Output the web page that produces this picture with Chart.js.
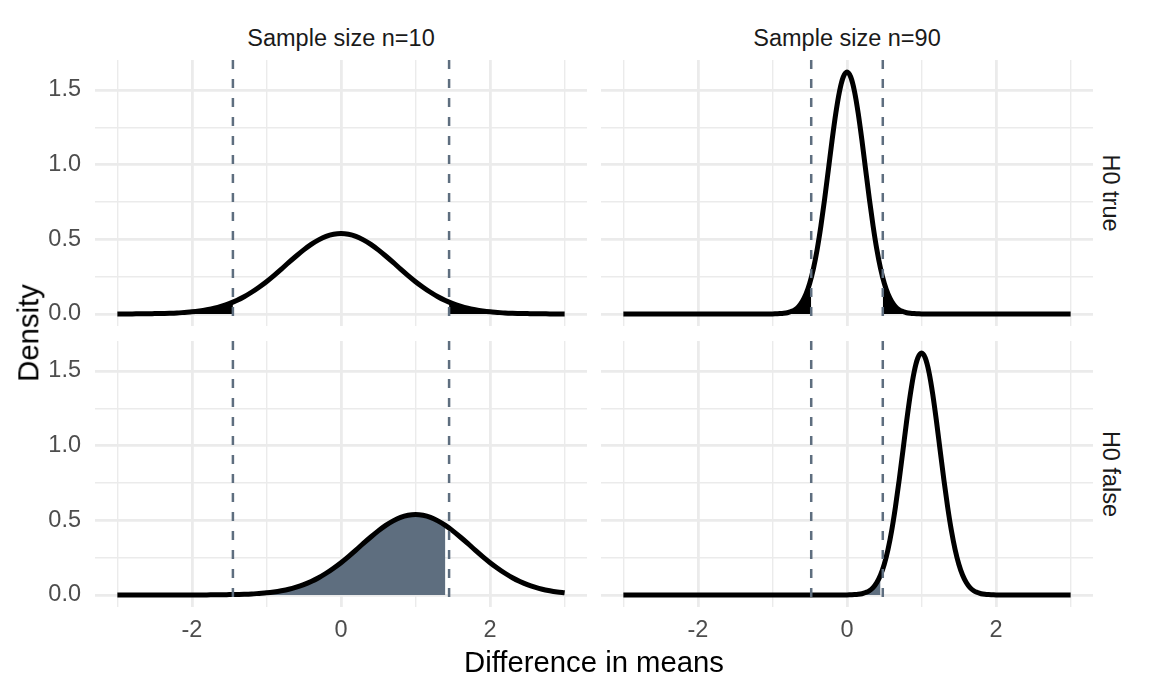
<!DOCTYPE html>
<html>
<head>
<meta charset="utf-8">
<script src="https://cdn.jsdelivr.net/npm/chart.js@4/dist/chart.umd.min.js"></script>
<style>
  html, body { margin: 0; padding: 0; background: #ffffff; }
  body { width: 1152px; height: 691px; position: relative; overflow: hidden; font-family: "Liberation Sans", Arial, sans-serif; }
  canvas { position: absolute; }
  .txt { position: absolute; white-space: nowrap; color: #1a1a1a; line-height: 1; }
  .strip { font-size: 23.5px; transform: translate(-50%, -50%); }
  .rstrip { font-size: 23.5px; transform: translate(-50%, -50%) rotate(90deg); }
  .title { font-size: 29.3px; color: #000; transform: translate(-50%, -50%); }
  .ytitle { font-size: 29.3px; color: #000; transform: translate(-50%, -50%) rotate(-90deg); }
</style>
</head>
<body>
<canvas id="c00" width="587" height="266" style="left:0px;top:60px;"></canvas>
<canvas id="c01" width="492" height="266" style="left:601px;top:60px;"></canvas>
<canvas id="c10" width="587" height="306" style="left:0px;top:341px;"></canvas>
<canvas id="c11" width="492" height="306" style="left:601px;top:341px;"></canvas>

<div class="txt strip" id="colT0" style="left:341px;top:39px;"></div>
<div class="txt strip" id="colT1" style="left:847px;top:39px;"></div>
<div class="txt rstrip" id="rowT0" style="left:1110px;top:193px;"></div>
<div class="txt rstrip" id="rowT1" style="left:1110px;top:474px;"></div>
<div class="txt ytitle" id="yTitle" style="left:28px;top:333px;"></div>
<div class="txt title" id="xTitle" style="left:594px;top:662px;"></div>

<script>
// ---------------- data ----------------
const colTitles = ['Sample size n=10', 'Sample size n=90'];
const rowTitles = ['H0 true', 'H0 false'];
const xAxisTitle = 'Difference in means';
const yAxisTitle = 'Density';

const xTicks = [-3, -2, -1, 0, 1, 2, 3];
const xTickLabels = ['', '-2', '', '0', '', '2', ''];
const yTicks = [0, 0.25, 0.5, 0.75, 1.0, 1.25, 1.5];
const yTickLabels = ['0.0', '', '0.5', '', '1.0', '', '1.5'];

// n = 10 curves
const xWide = [-3.0, -2.9, -2.8, -2.7, -2.6, -2.5, -2.4, -2.3, -2.2, -2.1,
  -2.0, -1.9, -1.8, -1.7, -1.6, -1.5, -1.4, -1.3, -1.2, -1.1,
  -1.0, -0.9, -0.8, -0.7, -0.6, -0.5, -0.4, -0.3, -0.2, -0.1,
  0.0, 0.1, 0.2, 0.3, 0.4, 0.5, 0.6, 0.7, 0.8, 0.9,
  1.0, 1.1, 1.2, 1.3, 1.4, 1.5, 1.6, 1.7, 1.8, 1.9,
  2.0, 2.1, 2.2, 2.3, 2.4, 2.5, 2.6, 2.7, 2.8, 2.9, 3.0];
const densN10H0 = [0.000, 0.000, 0.000, 0.001, 0.001, 0.002, 0.003, 0.004, 0.006, 0.010,
  0.014, 0.020, 0.028, 0.038, 0.052, 0.069, 0.090, 0.115, 0.145, 0.179,
  0.216, 0.257, 0.300, 0.345, 0.388, 0.429, 0.466, 0.496, 0.520, 0.534,
  0.539, 0.534, 0.520, 0.496, 0.466, 0.429, 0.388, 0.345, 0.300, 0.257,
  0.216, 0.179, 0.145, 0.115, 0.090, 0.069, 0.052, 0.038, 0.028, 0.020,
  0.014, 0.010, 0.006, 0.004, 0.003, 0.002, 0.001, 0.001, 0.000, 0.000, 0.000];
const densN10H1 = [0.000, 0.000, 0.000, 0.000, 0.000, 0.000, 0.000, 0.000, 0.000, 0.000,
  0.000, 0.000, 0.000, 0.001, 0.001, 0.002, 0.003, 0.004, 0.006, 0.010,
  0.014, 0.020, 0.028, 0.038, 0.052, 0.069, 0.090, 0.115, 0.145, 0.179,
  0.216, 0.257, 0.300, 0.345, 0.388, 0.429, 0.466, 0.496, 0.520, 0.534,
  0.539, 0.534, 0.520, 0.496, 0.466, 0.429, 0.388, 0.345, 0.300, 0.257,
  0.216, 0.179, 0.145, 0.115, 0.090, 0.069, 0.052, 0.038, 0.028, 0.020, 0.014];

// n = 90 curves
const xNarrow = [-3.0, -2.0,
  -1.0, -0.95, -0.9, -0.85, -0.8, -0.75, -0.7, -0.65, -0.6, -0.55,
  -0.5, -0.45, -0.4, -0.35, -0.3, -0.25, -0.2, -0.15, -0.1, -0.05,
  0.0, 0.05, 0.1, 0.15, 0.2, 0.25, 0.3, 0.35, 0.4, 0.45,
  0.5, 0.55, 0.6, 0.65, 0.7, 0.75, 0.8, 0.85, 0.9, 0.95,
  1.0, 1.05, 1.1, 1.15, 1.2, 1.25, 1.3, 1.35, 1.4, 1.45,
  1.5, 1.55, 1.6, 1.65, 1.7, 1.75, 1.8, 1.85, 1.9, 1.95,
  2.0, 3.0];
const densN90H0 = [0.000, 0.000,
  0.000, 0.001, 0.002, 0.004, 0.008, 0.016, 0.028, 0.049, 0.083, 0.133,
  0.205, 0.304, 0.432, 0.589, 0.770, 0.966, 1.164, 1.345, 1.492, 1.587,
  1.620, 1.587, 1.492, 1.345, 1.164, 0.966, 0.770, 0.589, 0.432, 0.304,
  0.205, 0.133, 0.083, 0.049, 0.028, 0.016, 0.008, 0.004, 0.002, 0.001,
  0.000, 0.000, 0.000, 0.000, 0.000, 0.000, 0.000, 0.000, 0.000, 0.000,
  0.000, 0.000, 0.000, 0.000, 0.000, 0.000, 0.000, 0.000, 0.000, 0.000,
  0.000, 0.000];
const densN90H1 = [0.000, 0.000,
  0.000, 0.000, 0.000, 0.000, 0.000, 0.000, 0.000, 0.000, 0.000, 0.000,
  0.000, 0.000, 0.000, 0.000, 0.000, 0.000, 0.000, 0.000, 0.000, 0.000,
  0.000, 0.001, 0.002, 0.004, 0.008, 0.016, 0.028, 0.049, 0.083, 0.133,
  0.205, 0.304, 0.432, 0.589, 0.770, 0.966, 1.164, 1.345, 1.492, 1.587,
  1.620, 1.587, 1.492, 1.345, 1.164, 0.966, 0.770, 0.589, 0.432, 0.304,
  0.205, 0.133, 0.083, 0.049, 0.028, 0.016, 0.008, 0.004, 0.002, 0.001,
  0.000, 0.000];

// critical values and densities at them
const critN10 = 1.45;
const critN90 = 0.48;
const edgeDensN10 = 0.079;
const edgeDensN90 = 0.241;
const betaEndN10 = 1.4;
const betaEndN90 = 0.45;

// ---------------- styling ----------------
const yMin = -0.081, yMax = 1.701;
const xMin = -3.3, xMax = 3.3;
const FONT = '"Liberation Sans", Arial, sans-serif';
const SLATE = '#5e6e7f';
const GRID = '#ebebeb';

document.getElementById('colT0').textContent = colTitles[0];
document.getElementById('colT1').textContent = colTitles[1];
document.getElementById('rowT0').textContent = rowTitles[0];
document.getElementById('rowT1').textContent = rowTitles[1];
document.getElementById('xTitle').textContent = xAxisTitle;
document.getElementById('yTitle').textContent = yAxisTitle;

function pts(xs, ys, keep) {
  const out = [];
  xs.forEach((x, i) => { if (!keep || keep(x)) out.push({ x: x, y: ys[i] }); });
  return out;
}

function makePanel(id, xs, ys, crit, kind, edge, betaEnd, showX, showY) {
  const datasets = [];
  [-crit, crit].forEach(c => {
    datasets.push({
      data: [{ x: c, y: yMax }, { x: c, y: yMin }],
      borderColor: SLATE, borderWidth: 2.5, borderDash: [9, 10],
      pointRadius: 0, fill: false, order: 0
    });
  });
  datasets.push({
    data: pts(xs, ys),
    borderColor: '#000000', borderWidth: 5, pointRadius: 0, fill: false,
    cubicInterpolationMode: 'monotone', order: 1
  });
  if (kind === 'alpha') {
    const left = pts(xs, ys, x => x <= -crit).concat([{ x: -crit, y: edge }]);
    const right = [{ x: crit, y: edge }].concat(pts(xs, ys, x => x >= crit));
    [left, right].forEach(d => datasets.push({
      data: d, borderWidth: 0, borderColor: 'rgba(0,0,0,0)', backgroundColor: '#000000',
      pointRadius: 0, fill: 'origin', cubicInterpolationMode: 'monotone', order: 2
    }));
  } else {
    const mid = pts(xs, ys, x => x >= -crit && x <= betaEnd);
    datasets.push({
      data: mid, borderWidth: 0, borderColor: 'rgba(0,0,0,0)', backgroundColor: SLATE,
      pointRadius: 0, fill: 'origin', cubicInterpolationMode: 'monotone', order: 2
    });
  }

  new Chart(document.getElementById(id), {
    type: 'line',
    data: { datasets: datasets },
    options: {
      responsive: false, animation: false, devicePixelRatio: 1,
      layout: { padding: 0 },
      plugins: { legend: { display: false }, tooltip: { enabled: false } },
      scales: {
        x: {
          type: 'linear', min: xMin, max: xMax,
          afterBuildTicks: s => { s.ticks = xTicks.map(v => ({ value: v })); },
          afterFit: s => {
            s.height = showX ? 40 : 0;
            s.paddingLeft = 0; s.paddingRight = 0;
          },
          border: { display: false },
          grid: {
            color: GRID, drawTicks: false,
            lineWidth: c => (xTickLabels[c.index] !== '' ? 2.8 : 1.4)
          },
          ticks: {
            display: showX, autoSkip: false, maxRotation: 0, padding: 9,
            color: '#4d4d4d', font: { family: FONT, size: 23.5 },
            callback: (v, i) => xTickLabels[i]
          }
        },
        y: {
          type: 'linear', min: yMin, max: yMax,
          afterBuildTicks: s => { s.ticks = yTicks.map(v => ({ value: v })); },
          afterFit: s => {
            s.width = showY ? 95 : 0;
            s.paddingTop = 0; s.paddingBottom = 0;
          },
          border: { display: false },
          grid: {
            color: GRID, drawTicks: false,
            lineWidth: c => (yTickLabels[c.index] !== '' ? 2.8 : 1.4)
          },
          ticks: {
            display: showY, autoSkip: false, padding: 14,
            color: '#4d4d4d', font: { family: FONT, size: 23.5 },
            callback: (v, i) => yTickLabels[i]
          }
        }
      }
    }
  });
}

makePanel('c00', xWide, densN10H0, critN10, 'alpha', edgeDensN10, null, false, true);
makePanel('c01', xNarrow, densN90H0, critN90, 'alpha', edgeDensN90, null, false, false);
makePanel('c10', xWide, densN10H1, critN10, 'beta', null, betaEndN10, true, true);
makePanel('c11', xNarrow, densN90H1, critN90, 'beta', null, betaEndN90, true, false);
</script>
</body>
</html>
